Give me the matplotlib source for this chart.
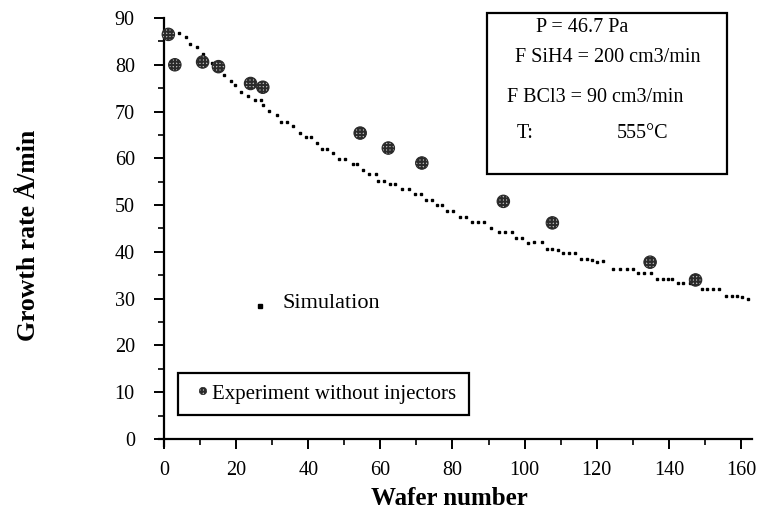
import matplotlib
matplotlib.use('Agg')
import matplotlib.pyplot as plt
from matplotlib.patches import Rectangle
from matplotlib.ticker import MultipleLocator

# experiment without injectors
exp_x = [1.2, 3.0, 10.7, 15.1, 24.0, 27.4, 54.4, 62.2, 71.5, 94.1, 107.7, 134.8, 147.4]
exp_y = [86.5, 80.0, 80.6, 79.6, 76.0, 75.2, 65.4, 62.2, 59.0, 50.8, 46.2, 37.8, 34.0]

# simulation (dotted curve)
sim_x = [4.2, 6.0, 7.2, 9.1, 10.9, 13.2, 16.7, 18.5, 19.7, 21.4, 23.4, 25.2, 26.9, 27.5,
         29.2, 31.2, 32.4, 34.0, 35.9, 37.7, 39.4, 40.7, 42.3, 43.9, 45.1, 46.8, 48.6,
         50.2, 52.3, 53.4, 55.1, 56.9, 58.8, 59.4, 61.0, 62.7, 64.1, 66.1, 67.8, 69.6,
         71.2, 72.6, 74.2, 75.6, 77.0, 78.6, 80.2, 82.1, 83.7, 85.3, 87.0, 88.8, 90.6,
         92.9, 94.6, 96.4, 97.5, 99.4, 101.0, 102.7, 104.7, 106.1, 107.7, 109.3, 110.7,
         112.4, 114.0, 115.6, 117.2, 118.6, 120.0, 121.8, 124.6, 126.5, 128.3, 130.0,
         131.5, 133.2, 135.0, 136.6, 138.3, 139.7, 140.8, 142.6, 144.0, 145.9, 149.1,
         150.7, 152.3, 154.0, 155.8, 157.4, 158.8, 160.2, 161.9]
sim_y = [86.9, 86.0, 84.5, 83.7, 82.4, 80.4, 77.9, 76.6, 75.6, 74.2, 73.4, 72.4, 72.4, 71.4,
         70.1, 69.2, 67.8, 67.8, 66.9, 65.4, 64.6, 64.6, 63.3, 62.1, 62.1, 61.2, 59.8,
         59.8, 58.8, 58.8, 57.5, 56.6, 56.6, 55.2, 55.2, 54.6, 54.6, 53.4, 53.4, 52.4,
         52.4, 51.0, 51.0, 50.1, 50.1, 48.7, 48.7, 47.4, 47.5, 46.4, 46.4, 46.4, 45.2,
         44.2, 44.2, 44.2, 43.0, 42.9, 41.9, 42.1, 42.1, 40.7, 40.7, 40.4, 39.8,
         39.8, 39.8, 38.4, 38.4, 38.2, 37.8, 38.0, 36.4, 36.4, 36.4, 36.3,
         35.4, 35.4, 35.5, 34.1, 34.1, 34.1, 34.2, 33.4, 33.4, 33.4, 32.0,
         32.0, 32.0, 32.0, 30.6, 30.6, 30.6, 30.4, 29.9]

W, H = 759, 527

def fx(px):
    return px / W

def fy(py):
    return 1 - py / H

plt.rcParams['font.family'] = 'Liberation Serif'
plt.rcParams['hatch.color'] = '#1a1a1a'
plt.rcParams['hatch.linewidth'] = 1.4

fig = plt.figure(figsize=(7.59, 5.27), dpi=100)
ax = fig.add_axes([fx(158.6), fy(446), fx(751.8) - fx(158.6), fy(18) - fy(446)])

ax.scatter(exp_x, exp_y, s=80, facecolor='#b5b5b5', edgecolor='#2a2a2a',
           hatch='+++++', linewidth=0.8, zorder=3)
ax.plot(sim_x, sim_y, linestyle='none', marker='s', markersize=1.7, color='black', zorder=2)

ax.set_xlim(-1.5, 163)
ax.set_ylim(-1.5, 90)
ax.spines['top'].set_visible(False)
ax.spines['right'].set_visible(False)
ax.spines['left'].set_position(('data', 0))
ax.spines['bottom'].set_position(('data', 0))
ax.spines['left'].set_linewidth(1.6)
ax.spines['bottom'].set_linewidth(1.6)
ax.spines['left'].set_bounds(-1.5, 90)
ax.spines['bottom'].set_bounds(-1.5, 163)

ax.xaxis.set_major_locator(MultipleLocator(20))
ax.xaxis.set_minor_locator(MultipleLocator(10))
ax.yaxis.set_major_locator(MultipleLocator(10))
ax.yaxis.set_minor_locator(MultipleLocator(5))
ax.tick_params(which='major', direction='out', length=7, width=1.4, labelsize=14.5)
ax.tick_params(which='minor', direction='out', length=4, width=1.2)
ax.tick_params(axis='x', which='major', pad=9)
ax.tick_params(axis='y', which='major', pad=14)

ax.set_xlabel('Wafer number', fontsize=18, fontweight='bold')
ax.set_ylabel('Growth rate Å/min', fontsize=18.5, fontweight='bold')
ax.xaxis.set_label_coords(0.491, -0.095)
ax.yaxis.set_label_coords(-0.2, 0.493)

# conditions box
fig.add_artist(Rectangle((fx(487), fy(174)), fx(727) - fx(487), fy(13) - fy(174),
                         transform=fig.transFigure, fill=False, lw=1.6, color='black'))
fs = 14.5
fig.text(fx(536), fy(28), 'P = 46.7 Pa', fontsize=fs, va='center')
fig.text(fx(515), fy(57), 'F SiH4 = 200 cm3/min', fontsize=fs, va='center')
fig.text(fx(507), fy(97), 'F BCl3 = 90 cm3/min', fontsize=fs, va='center')
fig.text(fx(517), fy(134), 'T:', fontsize=fs, va='center')
fig.text(fx(617), fy(134), '555°C', fontsize=fs, va='center')

# simulation label
fig.text(fx(282), fy(304), 'Simulation', fontsize=16, va='center')
fig.add_artist(Rectangle((fx(258), fy(308)), fx(4), 4 / H, transform=fig.transFigure,
                         color='black'))

# experiment legend box
fig.add_artist(Rectangle((fx(178), fy(415)), fx(469) - fx(178), fy(373) - fy(415),
                         transform=fig.transFigure, fill=False, lw=1.6, color='black'))
fig.text(fx(212), fy(395), 'Experiment without injectors', fontsize=15, va='center')
ax.scatter([fx(203)], [fy(391)], s=28, facecolor='#b5b5b5', edgecolor='#2a2a2a',
           hatch='+++++', linewidth=0.5, transform=fig.transFigure, clip_on=False)

fig.savefig('out.png', dpi=100)
